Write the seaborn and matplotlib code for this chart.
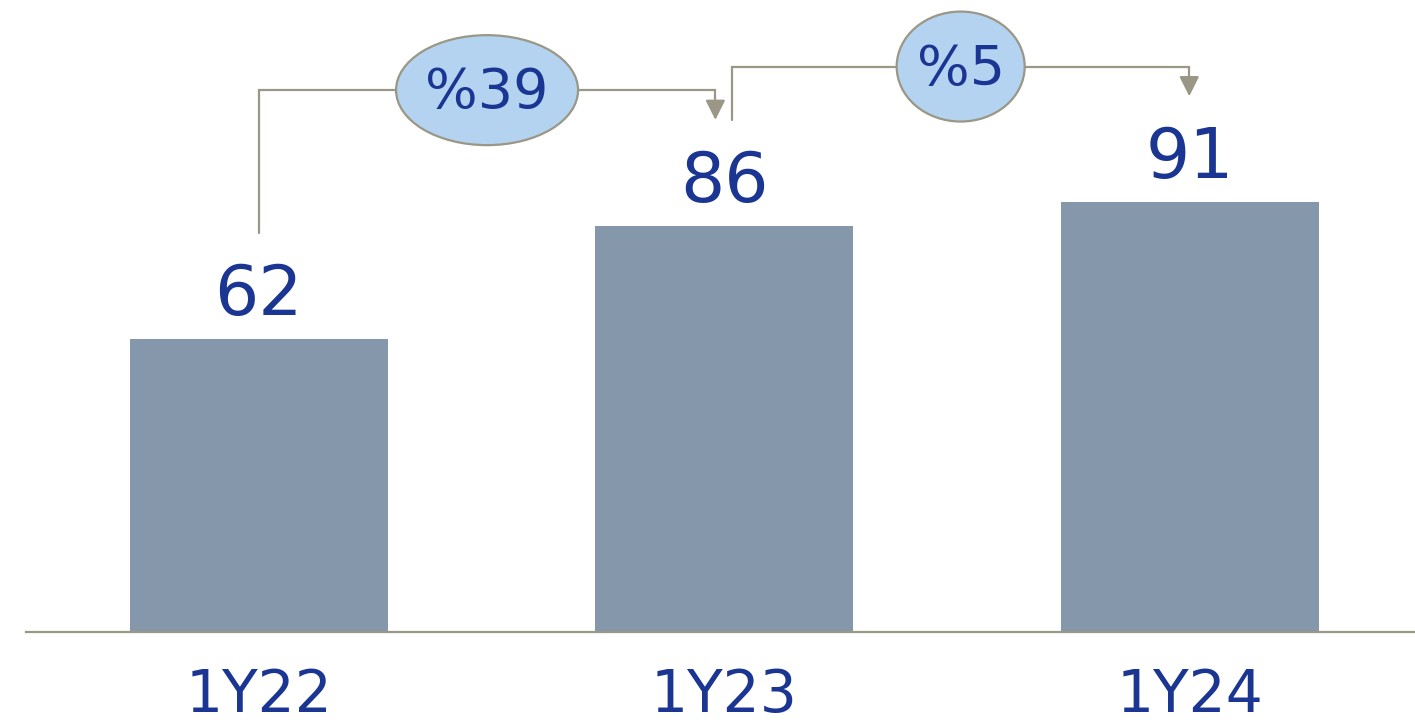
import matplotlib
matplotlib.use("Agg")
import matplotlib.pyplot as plt
from matplotlib.patches import Ellipse
import seaborn as sns
import pandas as pd

categories = ["1Y22", "1Y23", "1Y24"]
values = [62, 86, 91]
growth_labels = ["%39", "%5"]

BAR_COLOR = "#8597ab"
TEXT_COLOR = "#1b3593"
LINE_COLOR = "#9a9787"
ELL_FILL = "#b3d3f0"

sns.set_theme(style="white")
plt.rcParams['font.family'] = ['DejaVu Sans']
WEIGHT = 300

fig = plt.figure(figsize=(14.15, 7.24), dpi=100)
ax = fig.add_axes([26/1415, 92/724, 1 - 26/1415, 632/724])

df = pd.DataFrame({"cat": categories, "val": values})
sns.barplot(data=df, x="cat", y="val", color=BAR_COLOR, width=0.554,
            saturation=1, ax=ax, edgecolor="none")

ax.set_xlim(-0.5, 2.484)
ax.set_ylim(0, 133.9)
ax.set_xlabel("")
ax.set_ylabel("")
ax.set_yticks([])
for s in ["top", "left", "right"]:
    ax.spines[s].set_visible(False)
ax.spines["bottom"].set_color(LINE_COLOR)
ax.spines["bottom"].set_linewidth(1.6)
ax.tick_params(axis="x", length=0, pad=25, labelsize=42, labelcolor=TEXT_COLOR)
for lbl in ax.get_xticklabels():
    lbl.set_fontweight(WEIGHT)

for i, v in enumerate(values):
    ax.text(i, v + 5.2, str(v), ha="center", va="baseline",
            fontsize=50, color=TEXT_COLOR, fontweight=WEIGHT)

# growth brackets
offset = 22.5
starts_dx = [0.0, 0.017]
ends_dx = [-0.019, -0.001]
ell_w = [0.391, 0.275]
for k in range(len(values) - 1):
    x0 = k + starts_dx[k]
    x1 = k + 1 + ends_dx[k]
    y0 = values[k] + offset
    y1 = values[k + 1] + offset
    yb = max(values[k], values[k + 1]) + 28.8
    ax.plot([x0, x0, x1, x1], [y0, yb, yb, y1 + 3.2], color=LINE_COLOR,
            lw=1.6, solid_joinstyle="miter", zorder=3)
    ax.annotate("", xy=(x1, y1), xytext=(x1, y1 + 3.6),
                arrowprops=dict(arrowstyle="-|>,head_length=1.0,head_width=0.5",
                                color=LINE_COLOR, lw=1.6, shrinkA=0, shrinkB=0),
                zorder=4)
    xm = (x0 + x1) / 2
    e = Ellipse((xm, yb), width=ell_w[k], height=23.3, facecolor=ELL_FILL,
                edgecolor=LINE_COLOR, lw=1.6, zorder=5)
    ax.add_patch(e)
    ax.text(xm, yb + 0.6, growth_labels[k], ha="center", va="center_baseline",
            fontsize=40, color=TEXT_COLOR, fontweight=WEIGHT, zorder=6)

fig.savefig("out.png", dpi=100)
